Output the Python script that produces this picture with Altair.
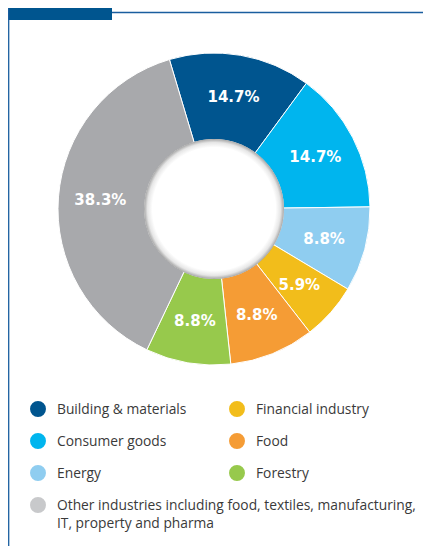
import math
import altair as alt
import pandas as pd

# ---- data ----
categories = [
    "Building & materials",
    "Consumer goods",
    "Energy",
    "Financial industry",
    "Food",
    "Forestry",
    "Other industries including food, textiles, manufacturing,\nIT, property and pharma",
]
values = [14.7, 14.7, 8.8, 5.9, 8.8, 8.8, 38.3]
slice_colors = ["#00558F", "#00B5EE", "#8FCDF0", "#F2BD1B", "#F59C35", "#97C94C", "#A8A9AC"]
legend_colors = ["#00558F", "#00B5EE", "#8FCDF0", "#F2BD1B", "#F59C35", "#97C94C", "#C8C9CB"]

pie_df = pd.DataFrame({"category": categories, "value": values, "order": list(range(len(values))), "hex": slice_colors})

leg_col = [0 if (i < 3 or i == 6) else 1 for i in range(len(categories))]
leg_row = [i if i < 3 else (i - 3 if i < 6 else 3) for i in range(len(categories))]
leg_df = pd.DataFrame({"category": categories, "col": leg_col, "row": leg_row, "hex": legend_colors})

W, H = 415, 538
CX, CY = 206, 201
R_OUT, R_IN = 156, 69.5
start = -0.29

theta_scale = alt.Scale(range=[start, start + 2 * math.pi])

base = alt.Chart(pie_df).encode(
    theta=alt.Theta("value:Q", stack=True, scale=theta_scale),
    order=alt.Order("order:Q"),
)

arcs = base.mark_arc(outerRadius=R_OUT, innerRadius=R_IN, stroke="white", strokeWidth=1).encode(
    color=alt.Color("hex:N", scale=None),
    x=alt.value(CX), y=alt.value(CY),
)

labels = base.transform_calculate(
    label="format(datum.value, '.1f') + '%'"
).mark_text(radius=114, font="DejaVu Sans", fontWeight="bold", fontSize=15, color="white").encode(
    text="label:N",
    x=alt.value(CX), y=alt.value(CY),
)

shadow = alt.Chart(pd.DataFrame({"v": [1]})).mark_arc(
    outerRadius=R_IN + 0.5, innerRadius=0,
    color=alt.RadialGradient(
        gradient="radial", x1=0.5, y1=0.5, r1=0, x2=0.5, y2=0.5, r2=0.5,
        stops=[
            alt.GradientStop(offset=0, color="#ffffff"),
            alt.GradientStop(offset=0.88, color="#ffffff"),
            alt.GradientStop(offset=0.95, color="#e6e6e6"),
            alt.GradientStop(offset=1, color="#a6a6a6"),
        ],
    ),
).encode(theta=alt.value(2 * math.pi), x=alt.value(CX), y=alt.value(CY))

frame_color = "#1A5E9F"
bar = alt.Chart(pd.DataFrame({"v": [1]})).mark_rect(color="#00558F").encode(
    x=alt.value(0), x2=alt.value(104), y=alt.value(0), y2=alt.value(12)
)
top_line = alt.Chart(pd.DataFrame({"v": [1]})).mark_rule(color=frame_color, strokeWidth=1.3).encode(
    x=alt.value(104), x2=alt.value(W), y=alt.value(4.5)
)
left_line = alt.Chart(pd.DataFrame({"v": [1]})).mark_rule(color=frame_color, strokeWidth=1.3).encode(
    x=alt.value(0.7), y=alt.value(0), y2=alt.value(H)
)

xs = alt.X("col:Q", scale=alt.Scale(domain=[0, 1], range=[30, 229]), axis=None)
ys = alt.Y("row:Q", scale=alt.Scale(domain=[0, 3], range=[401, 497]), axis=None)

leg_dots = alt.Chart(leg_df).mark_circle(size=254, opacity=1).encode(
    x=xs, y=ys, color=alt.Color("hex:N", scale=None)
)
leg_text = alt.Chart(leg_df).mark_text(
    align="left", baseline="alphabetic", dx=19, dy=5, font="Open Sans", fontSize=13.8,
    color="#3A3A3A", lineBreak="\n", lineHeight=18,
).encode(x=xs, y=ys, text="category:N")

chart = alt.layer(bar, top_line, left_line, arcs, labels, shadow, leg_dots, leg_text).properties(
    width=W, height=H, autosize=alt.AutoSizeParams(type="none"), padding=0
).configure_view(stroke=None)

chart.save("out.html", embed_options={"renderer": "svg", "actions": False})
